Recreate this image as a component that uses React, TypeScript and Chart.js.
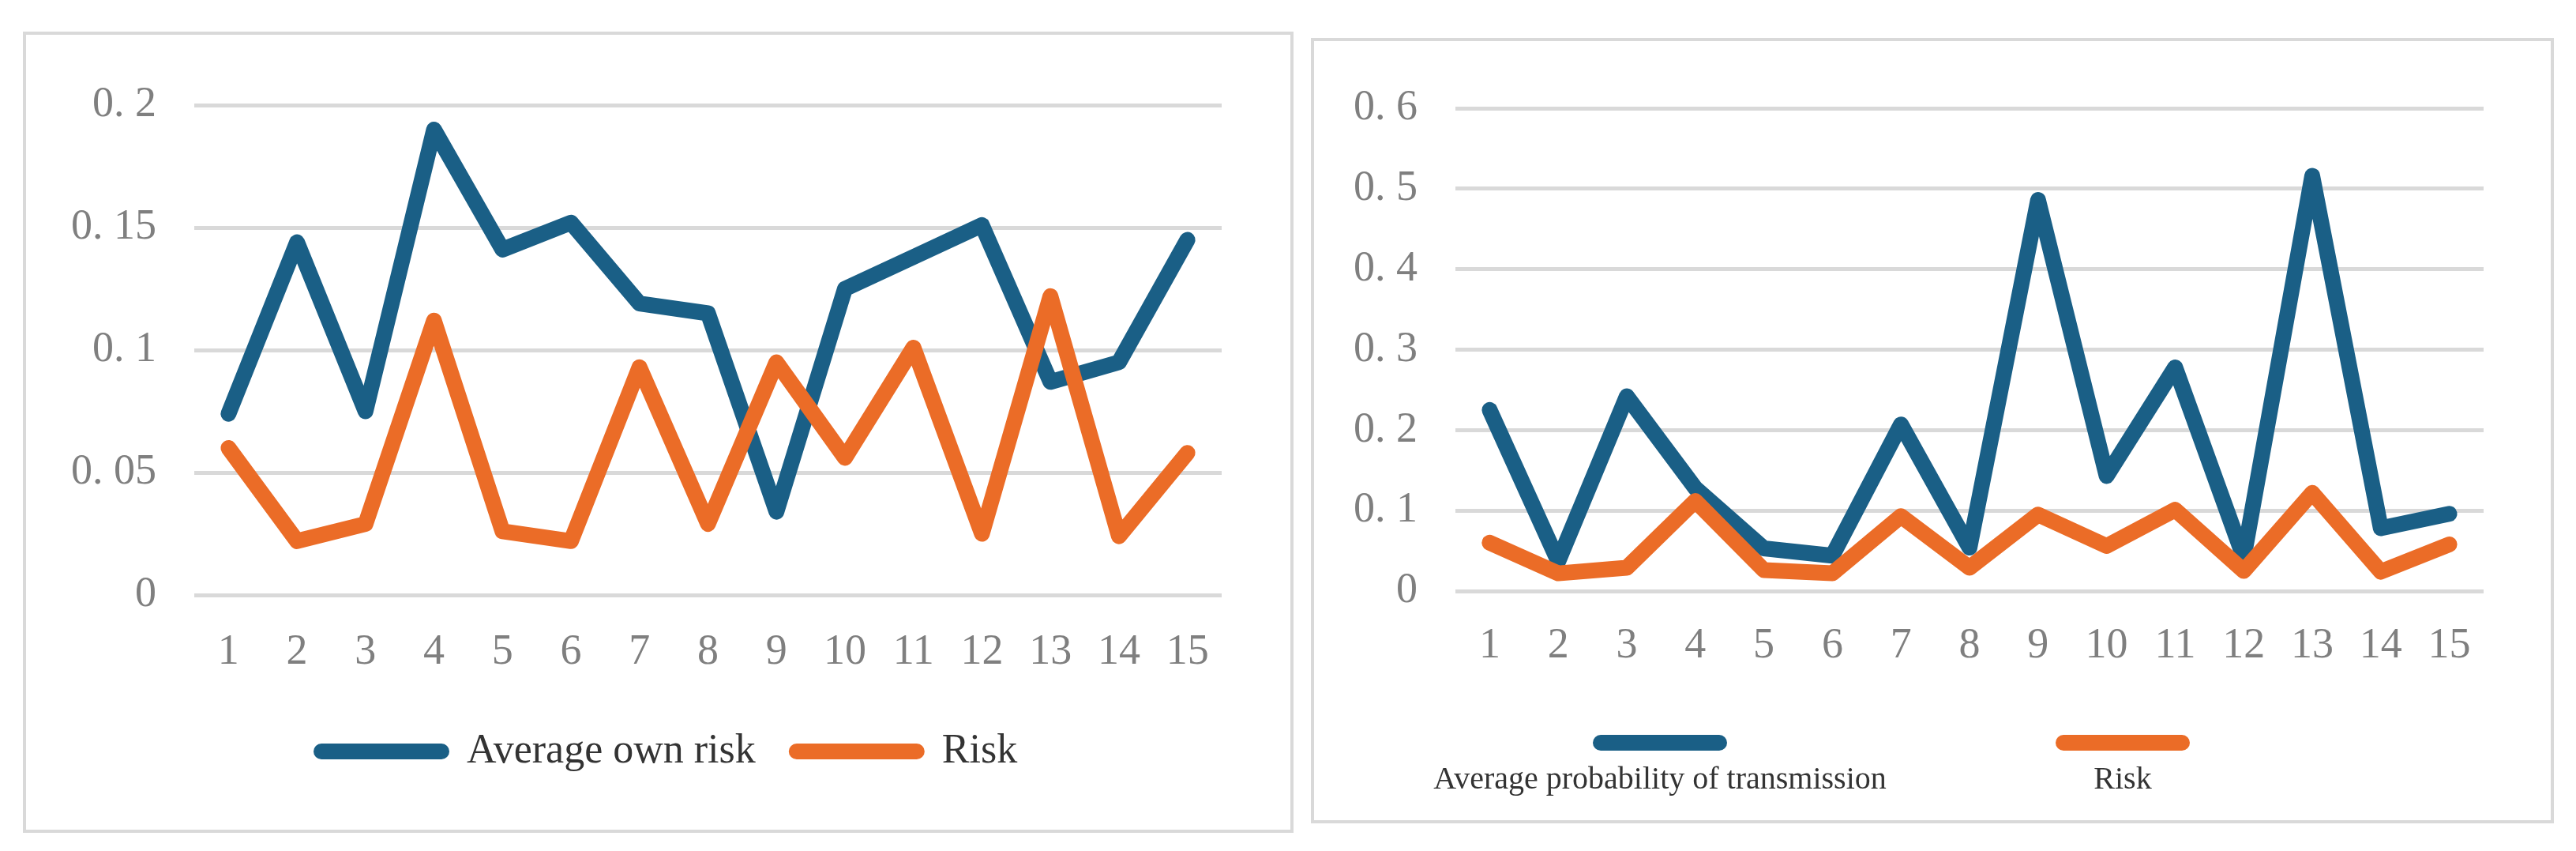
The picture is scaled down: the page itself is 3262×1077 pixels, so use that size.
import React, { useEffect, useRef } from "react";
import { Chart, registerables } from "chart.js";

Chart.register(...registerables);

// values
const categories = ["1", "2", "3", "4", "5", "6", "7", "8", "9", "10", "11", "12", "13", "14", "15"];
const averageOwnRisk = [0.074, 0.144, 0.075, 0.19, 0.141, 0.152, 0.119, 0.115, 0.034, 0.125, 0.138, 0.151, 0.087, 0.095, 0.145];
const riskValues = [0.06, 0.022, 0.029, 0.112, 0.026, 0.022, 0.093, 0.029, 0.095, 0.056, 0.101, 0.025, 0.122, 0.024, 0.058];
const averageTransmission = [0.225, 0.037, 0.242, 0.128, 0.053, 0.044, 0.207, 0.054, 0.486, 0.143, 0.278, 0.042, 0.516, 0.078, 0.096];
const leftYTicks = ["0", "0. 05", "0. 1", "0. 15", "0. 2"];
const rightYTicks = ["0", "0. 1", "0. 2", "0. 3", "0. 4", "0. 5", "0. 6"];

const BLUE = "#1a5f86";
const ORANGE = "#eb6c27";
const TICK_COLOR = "#7f7f7f";
const GRID_COLOR = "#d9d9d9";
const FONT = "'Liberation Serif', 'Times New Roman', serif";

// Excel-style legend: either one row (line + text) or line above centred text
const panelLegend = {
  id: "panelLegend",
  afterDraw(chart: any, _args: any, opts: any) {
    const ctx = chart.ctx as CanvasRenderingContext2D;
    const half = opts.lineWidth / 2;
    ctx.save();
    ctx.font = `${opts.fontSize}px ${FONT}`;
    ctx.textBaseline = "middle";
    ctx.lineCap = "round";
    ctx.lineWidth = opts.lineWidth;
    const sets = chart.data.datasets;
    if (opts.layout === "row") {
      let x = opts.startX;
      sets.forEach((ds: any) => {
        ctx.strokeStyle = ds.borderColor;
        ctx.beginPath();
        ctx.moveTo(x + half, opts.y);
        ctx.lineTo(x + opts.lineLength - half, opts.y);
        ctx.stroke();
        x += opts.lineLength + opts.gap;
        ctx.fillStyle = "#333333";
        ctx.textAlign = "left";
        ctx.fillText(ds.label, x, opts.y);
        x += ctx.measureText(ds.label).width + opts.itemGap;
      });
    } else {
      sets.forEach((ds: any, i: number) => {
        const cx = opts.firstCenter + i * opts.cellWidth;
        ctx.strokeStyle = ds.borderColor;
        ctx.beginPath();
        ctx.moveTo(cx - opts.lineLength / 2 + half, opts.lineY);
        ctx.lineTo(cx + opts.lineLength / 2 - half, opts.lineY);
        ctx.stroke();
        ctx.fillStyle = "#333333";
        ctx.textAlign = "center";
        ctx.fillText(ds.label, cx, opts.textY);
      });
    }
    ctx.restore();
  },
};

interface PanelProps {
  left: number;
  top: number;
  width: number;
  height: number;
  series: { label: string; data: number[]; color: string }[];
  yMax: number;
  yStep: number;
  yTicks: string[];
  area: { left: number; right: number; top: number; bottom: number };
  xPad: number;
  legend: any;
}

const LinePanel: React.FC<PanelProps> = ({ left, top, width, height, series, yMax, yStep, yTicks, area, xPad, legend }) => {
  const canvasRef = useRef<HTMLCanvasElement | null>(null);
  const innerW = width - 8;
  const innerH = height - 8;
  const xAxisHeight = 100;

  useEffect(() => {
    if (!canvasRef.current) return;
    const chart = new Chart(canvasRef.current, {
      type: "line",
      data: {
        labels: categories,
        datasets: series.map((s, i) => ({
          label: s.label,
          data: s.data,
          borderColor: s.color,
          backgroundColor: s.color,
          borderWidth: 20,
          borderCapStyle: "round",
          borderJoinStyle: "round",
          pointRadius: 0,
          fill: false,
          tension: 0,
          order: series.length - i,
        })),
      },
      options: {
        animation: false,
        responsive: false,
        devicePixelRatio: 1,
        layout: {
          padding: {
            left: 0,
            top: area.top,
            right: innerW - area.right,
            bottom: innerH - area.bottom - xAxisHeight,
          },
        },
        plugins: {
          legend: { display: false },
          tooltip: { enabled: false },
          panelLegend: legend,
        } as any,
        scales: {
          x: {
            type: "category",
            offset: true,
            grid: { display: false },
            border: { display: false },
            ticks: {
              color: TICK_COLOR,
              font: { family: FONT, size: 54 },
              padding: xPad,
              maxRotation: 0,
              autoSkip: false,
            },
            afterFit: (scale: any) => {
              scale.height = xAxisHeight;
            },
          },
          y: {
            min: 0,
            max: yMax,
            ticks: {
              stepSize: yStep,
              color: TICK_COLOR,
              font: { family: FONT, size: 54 },
              padding: 48,
              callback: (v: any) => yTicks[Math.round(Number(v) / yStep)],
            },
            grid: { color: GRID_COLOR, lineWidth: 5, drawTicks: false },
            border: { display: false },
            afterFit: (scale: any) => {
              scale.width = area.left;
            },
          },
        },
      },
      plugins: [panelLegend],
    });
    return () => {
      chart.destroy();
    };
  }, []);

  return (
    <div
      style={{
        position: "absolute",
        left,
        top,
        width,
        height,
        boxSizing: "border-box",
        border: `4px solid ${GRID_COLOR}`,
        background: "#ffffff",
      }}
    >
      <canvas ref={canvasRef} width={innerW} height={innerH} style={{ display: "block", width: innerW, height: innerH }} />
    </div>
  );
};

export default function App() {
  return (
    <div style={{ position: "absolute", left: 0, top: 0, width: 3262, height: 1077, background: "#ffffff", overflow: "hidden" }}>
      <LinePanel
        left={29}
        top={40}
        width={1609}
        height={1014}
        series={[
          { label: "Average own risk", data: averageOwnRisk, color: BLUE },
          { label: "Risk", data: riskValues, color: ORANGE },
        ]}
        yMax={0.2}
        yStep={0.05}
        yTicks={leftYTicks}
        area={{ left: 213, right: 1514, top: 89, bottom: 709 }}
        xPad={32}
        legend={{ layout: "row", startX: 364, y: 907, lineLength: 172, lineWidth: 20, gap: 22, itemGap: 42, fontSize: 52 }}
      />
      <LinePanel
        left={1660}
        top={48}
        width={1574}
        height={994}
        series={[
          { label: "Average probability of transmission", data: averageTransmission, color: BLUE },
          { label: "Risk", data: riskValues, color: ORANGE },
        ]}
        yMax={0.6}
        yStep={0.1}
        yTicks={rightYTicks}
        area={{ left: 179, right: 1481, top: 85, bottom: 696 }}
        xPad={29}
        legend={{ layout: "stacked", firstCenter: 438, cellWidth: 586, lineY: 888, textY: 935, lineLength: 170, lineWidth: 20, fontSize: 40 }}
      />
    </div>
  );
}
